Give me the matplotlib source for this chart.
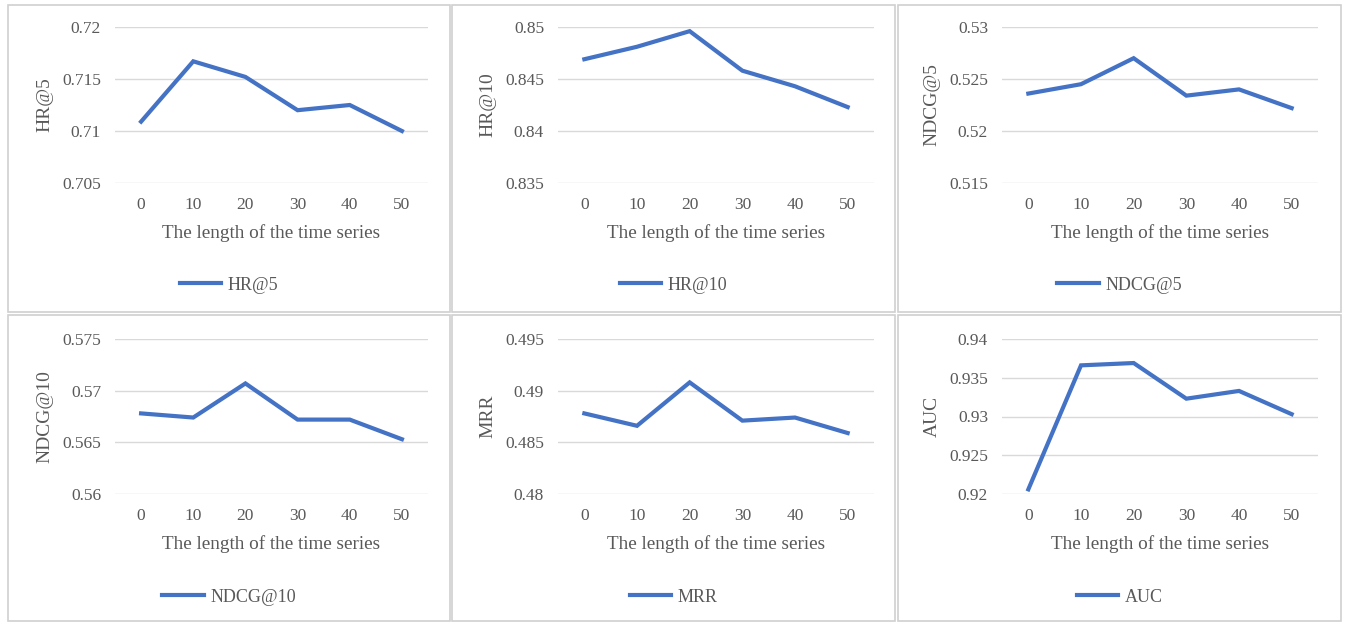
import matplotlib
matplotlib.use("Agg")
import matplotlib.pyplot as plt
from matplotlib.patches import Rectangle

plt.rcParams['font.family'] = ['Liberation Serif', 'DejaVu Serif']

lengths = ["0", "10", "20", "30", "40", "50"]

hr5 = [0.7109, 0.7167, 0.7152, 0.7120, 0.7125, 0.7100]
hr10 = [0.8469, 0.8481, 0.8496, 0.8458, 0.8443, 0.8423]
ndcg5 = [0.5236, 0.5245, 0.5270, 0.5234, 0.5240, 0.5222]
ndcg10 = [0.5678, 0.5674, 0.5707, 0.5672, 0.5672, 0.5653]
mrr = [0.4878, 0.4866, 0.4908, 0.4871, 0.4874, 0.4859]
auc = [0.9206, 0.9366, 0.9369, 0.9323, 0.9333, 0.9303]

names = ["HR@5", "HR@10", "NDCG@5", "NDCG@10", "MRR", "AUC"]
series = [hr5, hr10, ndcg5, ndcg10, mrr, auc]
yticks = [
    [0.705, 0.71, 0.715, 0.72],
    [0.835, 0.84, 0.845, 0.85],
    [0.515, 0.52, 0.525, 0.53],
    [0.56, 0.565, 0.57, 0.575],
    [0.48, 0.485, 0.49, 0.495],
    [0.92, 0.925, 0.93, 0.935, 0.94],
]
ytick_labels = [
    ["0.705", "0.71", "0.715", "0.72"],
    ["0.835", "0.84", "0.845", "0.85"],
    ["0.515", "0.52", "0.525", "0.53"],
    ["0.56", "0.565", "0.57", "0.575"],
    ["0.48", "0.485", "0.49", "0.495"],
    ["0.92", "0.925", "0.93", "0.935", "0.94"],
]
xlabel = "The length of the time series"

W, H = 1346, 625
fig = plt.figure(figsize=(W / 100, H / 100), dpi=100)
fig.patch.set_facecolor("white")

txt = "#595959"
blue = "#4472C4"
grid = "#D9D9D9"
border = "#D0D0D0"

panel_x = [(8, 450), (452, 895), (898, 1341)]
panel_y = [(5, 312), (315, 621)]
plot_x = [(115, 428), (558, 874), (1002, 1318)]
plot_y = [(27, 183), (339, 494)]

def fx(px):
    return px / W

def fy(py):
    return 1 - py / H

for i in range(6):
    r, c = divmod(i, 3)
    px0, px1 = panel_x[c]
    py0, py1 = panel_y[r]
    fig.add_artist(Rectangle((fx(px0), fy(py1)), fx(px1) - fx(px0), fy(py0) - fy(py1),
                             transform=fig.transFigure, fill=False, edgecolor=border, lw=1.2))
    x0, x1 = plot_x[c]
    y0, y1 = plot_y[r]
    ax = fig.add_axes([fx(x0), fy(y1), fx(x1) - fx(x0), fy(y0) - fy(y1)])
    ax.plot(lengths, series[i], color=blue, lw=3.0, solid_joinstyle='miter', label=names[i], zorder=3)
    ax.set_xlim(-0.5, 5.5)
    ax.set_ylim(yticks[i][0], yticks[i][-1])
    ax.set_yticks(yticks[i])
    ax.set_yticklabels(ytick_labels[i])
    for s in ax.spines.values():
        s.set_visible(False)
    ax.tick_params(axis='both', length=0, labelsize=12.5, colors=txt)
    ax.tick_params(axis='y', pad=10)
    ax.tick_params(axis='x', pad=10)
    ax.grid(axis='y', color=grid, lw=1)
    ax.set_axisbelow(True)
    ax.text(-70 / (x1 - x0), 0.5, names[i], rotation=90, ha='center', va='center',
            transform=ax.transAxes, fontsize=14, color=txt)
    ax.set_xlabel(xlabel, fontsize=13.8, color=txt, labelpad=8)
    leg = ax.legend(loc='center', bbox_to_anchor=(fx((px0 + px1) / 2), fy(285 + r * 312)),
                    bbox_transform=fig.transFigure, frameon=False, fontsize=13,
                    handlelength=2.3, handletextpad=0.35)
    for t in leg.get_texts():
        t.set_color(txt)

fig.savefig("out.png", dpi=100, facecolor="white")
